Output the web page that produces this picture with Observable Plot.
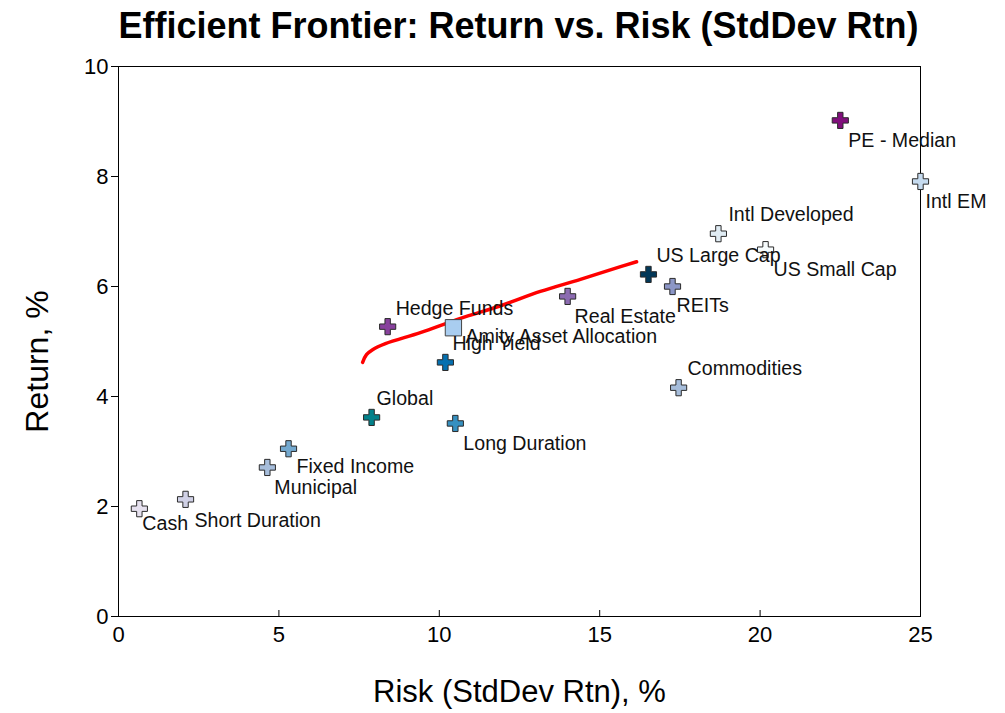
<!DOCTYPE html>
<html>
<head>
<meta charset="utf-8">
<script src="https://cdn.jsdelivr.net/npm/d3@7"></script>
<script src="https://cdn.jsdelivr.net/npm/@observablehq/plot@0.6"></script>
<style>
  html, body { margin: 0; padding: 0; background: #fff; }
  #title { width: 1005px; height: 52px; line-height: 52px; font-family: "Liberation Sans", Arial, sans-serif; font-weight: bold; font-size: 36px; color: #000; text-align: center; padding-left: 32px; box-sizing: border-box; white-space: nowrap; }
</style>
</head>
<body>
<div id="title">Efficient Frontier: Return vs. Risk (StdDev Rtn)</div>
<div id="chart"></div>
<script>
// ---- data ----
const assets = ["Cash", "Short Duration", "Municipal", "Fixed Income", "Global", "Long Duration", "High Yield", "Hedge Funds", "Real Estate", "US Large Cap", "REITs", "Commodities", "Intl Developed", "US Small Cap", "PE - Median", "Intl EM"];
const risk = [0.65, 2.09, 4.64, 5.3, 7.89, 10.5, 10.19, 8.39, 14.0, 16.52, 17.27, 17.46, 18.7, 20.17, 22.5, 25.0];
const ret = [1.96, 2.13, 2.71, 3.05, 3.62, 3.51, 4.62, 5.27, 5.82, 6.22, 6.0, 4.16, 6.96, 6.67, 9.02, 7.91];
const assetColors = ["#e6e1ef", "#d0d1e6", "#a6bddb", "#74a9cf", "#02818a", "#3690c0", "#0570b0", "#88419d", "#8c6bb1", "#023858", "#8c96c6", "#a6bddb", "#e0ecf4", "#f7fcfd", "#810f7c", "#c6dbef"];

const portfolioName = ["Amity Asset Allocation"];
const portfolioRisk = [10.44];
const portfolioRet = [5.25];

const frontierRisk = [7.61, 7.73, 7.92, 8.32, 9.41, 10.66, 11.91, 13.15, 14.40, 15.65, 16.15];
const frontierRet = [4.62, 4.76, 4.85, 4.96, 5.16, 5.42, 5.65, 5.91, 6.13, 6.36, 6.45];

const xTicks = [0, 5, 10, 15, 20, 25];
const yTicks = [0, 2, 4, 6, 8, 10];
const xLabel = "Risk (StdDev Rtn), %";
const yLabel = "Return, %";

// ---- build ----
const points = assets.map((name, i) => ({name, x: risk[i], y: ret[i], color: assetColors[i]}));
const portfolio = portfolioName.map((name, i) => ({name, x: portfolioRisk[i], y: portfolioRet[i]}));
const frontier = frontierRisk.map((x, i) => ({x, y: frontierRet[i]}));

// label placement (pixel offsets from the marker)
const labelOffset = {
  "Cash": [3, 15], "Short Duration": [9, 21], "Municipal": [7, 20], "Fixed Income": [8, 18],
  "Global": [5, -19], "Long Duration": [8, 20], "High Yield": [7, -19], "Hedge Funds": [8, -18],
  "Real Estate": [7, 20], "US Large Cap": [8, -19], "REITs": [4, 19], "Commodities": [9, -19],
  "Intl Developed": [10, -19], "US Small Cap": [8, 20], "PE - Median": [8, 20], "Intl EM": [5, 20],
  "Amity Asset Allocation": [12, 9]
};
const labelMarks = [...points, ...portfolio].map(d => Plot.text([d], {
  x: "x", y: "y", text: "name", textAnchor: "start",
  dx: labelOffset[d.name][0], dy: labelOffset[d.name][1],
  fontSize: 19.6, fill: "#111"
}));

const font = "'Liberation Sans', Arial, sans-serif";

const chart = Plot.plot({
  width: 1005,
  height: 661,
  marginTop: 14,
  marginLeft: 118,
  marginRight: 85,
  marginBottom: 97,
  style: {fontFamily: font, background: "#fff", color: "#000", overflow: "visible"},
  x: {domain: [0, 25]},
  y: {domain: [0, 10]},
  marks: [
    Plot.frame({stroke: "#000", strokeWidth: 1}),
    Plot.axisY({ticks: yTicks, tickSize: 7, tickPadding: 3, fontSize: 22, label: null, stroke: "#000"}),
    Plot.axisX({ticks: xTicks, tickSize: 6, dy: -6, text: null, label: null, stroke: "#000"}),
    Plot.axisX({ticks: xTicks, tickSize: 0, tickPadding: 10, fontSize: 22, label: null}),
    Plot.text([xLabel], {text: d => d, frameAnchor: "bottom", textAnchor: "middle", dy: 85, fontSize: 31, fill: "#000"}),
    Plot.text([yLabel], {text: d => d, frameAnchor: "left", textAnchor: "middle", dx: -81, dy: 20, rotate: -90, fontSize: 32, fill: "#000"}),
    Plot.line(frontier, {x: "x", y: "y", stroke: "#ff0000", strokeWidth: 3.5, curve: "catmull-rom"}),
    Plot.dot(points, {x: "x", y: "y", symbol: "cross", r: 6.8, fill: "color", stroke: "#2b2b2b", strokeWidth: 1}),
    Plot.dot(portfolio, {x: "x", y: "y", symbol: "square", r: 9.2, fill: "#a9cdf0", stroke: "#444", strokeWidth: 1}),
    ...labelMarks
  ]
});
document.getElementById("chart").appendChild(chart);
</script>
</body>
</html>
